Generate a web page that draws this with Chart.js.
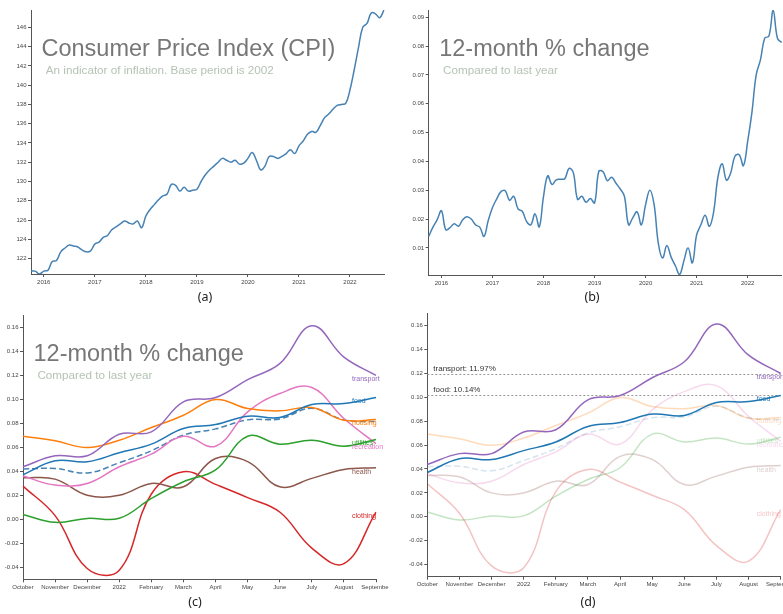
<!DOCTYPE html>
<html>
<head>
<meta charset="utf-8">
<script src="https://cdn.jsdelivr.net/npm/chart.js@4.4.1/dist/chart.umd.min.js"></script>
<style>
html, body { margin: 0; padding: 0; background: #fff; }
body { position: relative; width: 783px; height: 614px; overflow: hidden; font-family: "Liberation Sans", Arial, sans-serif; }
canvas { position: absolute; }
.title { position: absolute; font-size: 23.5px; line-height: 1; color: #777; white-space: nowrap; }
.sub { position: absolute; font-size: 11.7px; line-height: 1; color: #b5c3b5; white-space: nowrap; }
.cap { position: absolute; width: 40px; margin-left: -20px; text-align: center; font-family: "Noto Sans", sans-serif; font-size: 12.5px; line-height: 1; color: #222; }
#clipC { position: absolute; left: 0; top: 305px; width: 389px; height: 300px; overflow: hidden; }
</style>
</head>
<body>

<canvas id="cpiChart" width="392" height="292" style="left:0;top:0;width:392px;height:292px"></canvas>
<canvas id="changeChart" width="392" height="292" style="left:397px;top:0;width:392px;height:292px"></canvas>
<div id="clipC"><canvas id="groupChart" width="420" height="290" style="left:0;top:0;width:420px;height:290px"></canvas></div>
<canvas id="focusChart" width="420" height="290" style="left:395px;top:305px;width:420px;height:290px"></canvas>

<div class="title" style="left:41.5px;top:37.4px">Consumer Price Index (CPI)</div>
<div class="sub" style="left:45.8px;top:64.1px">An indicator of inflation. Base period is 2002</div>
<div class="title" style="left:439.2px;top:37.4px">12-month % change</div>
<div class="sub" style="left:443px;top:64.1px">Compared to last year</div>
<div class="title" style="left:33.5px;top:342.4px">12-month % change</div>
<div class="sub" style="left:37.4px;top:369.1px">Compared to last year</div>

<div class="cap" style="left:205px;top:291px">(a)</div>
<div class="cap" style="left:592px;top:291px">(b)</div>
<div class="cap" style="left:195px;top:596px">(c)</div>
<div class="cap" style="left:588px;top:596px">(d)</div>

<script>
// monthly series, Oct 2015 .. Sep 2022
const cpi = [
    120.7, 120.7, 120.4, 120.7, 120.8, 121.7, 121.8, 122.7, 123.1, 123.4,
    123.3, 123.2, 122.9, 122.7, 122.8, 123.5, 123.7, 124.2, 124.4, 125.0,
    125.3, 125.6, 125.9, 125.7, 125.6, 125.9, 125.2, 126.4, 127.1, 127.6,
    128.1, 128.5, 128.7, 129.7, 129.6, 129.0, 129.4, 129.0, 129.1, 129.2,
    130.0, 130.7, 131.2, 131.6, 132.0, 132.4, 132.2, 132.0, 132.2, 131.8,
    131.9, 132.4, 133.0, 132.2, 131.2, 131.6, 132.6, 132.6, 132.4, 132.6,
    132.9, 133.3, 132.9, 133.7, 134.2, 134.9, 135.2, 135.1, 135.8, 136.6,
    137.0, 137.5, 137.9, 138.0, 138.1, 139.5, 141.6, 143.9, 146.0, 146.4,
    147.5, 147.4, 147.0, 147.8
];
const cpiChange = [
    0.0140, 0.0172, 0.0198, 0.0229, 0.0163, 0.0170, 0.0184, 0.0175, 0.0198, 0.0208,
    0.0200, 0.0180, 0.0172, 0.0140, 0.0195, 0.0240, 0.0270, 0.0295, 0.0298, 0.0265,
    0.0279, 0.0235, 0.0227, 0.0192, 0.0180, 0.0218, 0.0173, 0.0279, 0.0350, 0.0320,
    0.0336, 0.0338, 0.0340, 0.0376, 0.0361, 0.0268, 0.0279, 0.0258, 0.0271, 0.0256,
    0.0366, 0.0364, 0.0333, 0.0345, 0.0325, 0.0305, 0.0280, 0.0180, 0.0205, 0.0225,
    0.0180, 0.0250, 0.0300, 0.0250, 0.0115, 0.0065, 0.0108, 0.0068, 0.0038, 0.0008,
    0.0055, 0.0100, 0.0048, 0.0145, 0.0180, 0.0213, 0.0175, 0.0225, 0.0345, 0.0392,
    0.0335, 0.0360, 0.0418, 0.0423, 0.0385, 0.0470, 0.0570, 0.0700, 0.0752, 0.0827,
    0.0835, 0.0923, 0.0827, 0.0812
];
const yearTicks = ['2016', '2017', '2018', '2019', '2020', '2021', '2022'];
const cpiTicks = [122, 124, 126, 128, 130, 132, 134, 136, 138, 140, 142, 144, 146];
const changeTicks = [0.01, 0.02, 0.03, 0.04, 0.05, 0.06, 0.07, 0.08, 0.09];
const groupTicks = [-0.04, -0.02, 0, 0.02, 0.04, 0.06, 0.08, 0.10, 0.12, 0.14, 0.16];

// last 12 months by group
const monthLabels = ['October', 'November', 'December', '2022', 'February', 'March',
    'April', 'May', 'June', 'July', 'August', 'September'];
const food       = [0.0370, 0.0486, 0.0478, 0.0553, 0.0625, 0.0755, 0.0788, 0.0858, 0.0847, 0.0955, 0.0963, 0.1014];
const housing    = [0.0691, 0.0653, 0.0597, 0.0658, 0.0763, 0.0866, 0.0996, 0.0921, 0.0902, 0.0930, 0.0824, 0.0830];
const utilities  = [0.0040, -0.0026, 0.0007, 0.0008, 0.0173, 0.0312, 0.0410, 0.0691, 0.0625, 0.0658, 0.0608, 0.0664];
const clothing   = [0.0276, 0.0030, -0.0410, -0.0425, 0.0210, 0.0395, 0.0290, 0.0180, 0.0060, -0.0240, -0.0370, 0.0060];
const recreation = [0.0360, 0.0284, 0.0298, 0.0437, 0.0542, 0.0691, 0.0608, 0.0894, 0.1046, 0.1096, 0.0838, 0.0630];
const transport  = [0.0437, 0.0528, 0.0528, 0.0708, 0.0727, 0.0977, 0.1013, 0.1162, 0.1295, 0.1611, 0.1350, 0.1197];
const health     = [0.0345, 0.0334, 0.0200, 0.0200, 0.0298, 0.0270, 0.0505, 0.0480, 0.0270, 0.0340, 0.0414, 0.0428];
const allItems   = cpiChange.slice(-12);

const groups = [
    { name: 'transport',  data: transport,  color: '#9467bd' },
    { name: 'food',       data: food,       color: '#1f77b4' },
    { name: 'housing',    data: housing,    color: '#ff7f0e' },
    { name: 'utilities',  data: utilities,  color: '#2ca02c' },
    { name: 'recreation', data: recreation, color: '#e377c2' },
    { name: 'health',     data: health,     color: '#8c564b' },
    { name: 'clothing',   data: clothing,   color: '#d62728' }
];
const highlighted = ['transport', 'food'];

// month categories for the long series
const months = [];
for (let i = 0; i < cpi.length; i++) {
    const m = 9 + i;
    months.push((2015 + Math.floor(m / 12)) + '-' + String(m % 12 + 1).padStart(2, '0'));
}

const FONT = '"Liberation Sans", Arial, sans-serif';
Chart.defaults.font.family = FONT;
const tickFont = { size: 6, family: FONT };
const fmt2 = v => (Math.abs(v) < 1e-9 ? 0 : v).toFixed(2);

function fade(hex, a) {
    const n = parseInt(hex.slice(1), 16);
    return 'rgba(' + (n >> 16) + ',' + ((n >> 8) & 255) + ',' + (n & 255) + ',' + a + ')';
}

function yScale(min, max, tickValues, width, fmt) {
    return {
        min: min, max: max,
        afterBuildTicks: s => { s.ticks = tickValues.map(v => ({ value: v })); },
        ticks: { font: tickFont, color: '#444', padding: 1.5, callback: fmt },
        grid: { drawOnChartArea: false, tickLength: 3, color: '#555' },
        border: { color: '#555' },
        afterFit: s => { s.width = width; }
    };
}

function xScale(height, yearsOnly) {
    const sc = {
        type: 'category', offset: false,
        ticks: { autoSkip: false, maxRotation: 0, font: tickFont, color: '#444', padding: 1.5 },
        grid: { drawOnChartArea: false, tickLength: 3, color: '#555', offset: false },
        border: { color: '#555' },
        afterFit: s => { s.height = height; }
    };
    if (yearsOnly) {
        sc.afterBuildTicks = s => {
            s.ticks = s.ticks.filter(t => {
                const lab = s.getLabelForValue(t.value);
                return lab.endsWith('-01') && yearTicks.includes(lab.slice(0, 4));
            });
        };
        sc.ticks.callback = function (v) { return this.getLabelForValue(v).slice(0, 4); };
    }
    return sc;
}

function baseOptions(pad, scales) {
    return {
        responsive: false, animation: false, events: [],
        layout: { padding: pad },
        scales: scales,
        plugins: { legend: { display: false }, tooltip: { enabled: false } }
    };
}

// (a)
new Chart(document.getElementById('cpiChart'), {
    type: 'line',
    data: { labels: months, datasets: [{ data: cpi, borderColor: '#4682b4', borderWidth: 1.5, pointRadius: 0, tension: 0.4, fill: false }] },
    options: baseOptions({ top: 10, right: 8, bottom: 0, left: 0 }, {
        x: xScale(18, true),
        y: yScale(120.4, 147.8, cpiTicks, 31, v => v.toFixed(0))
    })
});

// (b)
new Chart(document.getElementById('changeChart'), {
    type: 'line',
    data: { labels: months, datasets: [{ data: cpiChange, borderColor: '#4682b4', borderWidth: 1.5, pointRadius: 0, tension: 0.4, fill: false }] },
    options: baseOptions({ top: 10, right: 7.3, bottom: 0, left: 0 }, {
        x: xScale(17, true),
        y: yScale(0.0006, 0.0925, changeTicks, 31.7, fmt2)
    })
});

// group labels at the end of each line
const endLabels = {
    id: 'endLabels',
    afterDatasetsDraw(chart) {
        const ctx = chart.ctx, area = chart.chartArea, y = chart.scales.y;
        ctx.save();
        ctx.font = '7px ' + FONT;
        ctx.textBaseline = 'middle';
        chart.data.datasets.forEach(ds => {
            if (!ds.label) return;
            ctx.fillStyle = ds.borderColor;
            ctx.fillText(ds.label, area.right - 24, y.getPixelForValue(ds.data[ds.data.length - 1]) + 4);
        });
        ctx.restore();
    }
};

// dotted reference lines for the highlighted groups
const refLines = {
    id: 'refLines',
    beforeDatasetsDraw(chart) {
        const ctx = chart.ctx, area = chart.chartArea, y = chart.scales.y;
        ctx.save();
        ctx.font = '8px ' + FONT;
        ctx.textBaseline = 'bottom';
        highlighted.forEach(name => {
            const g = groups.find(d => d.name === name);
            const v = g.data[g.data.length - 1];
            const py = Math.round(y.getPixelForValue(v)) + 0.5;
            ctx.strokeStyle = '#999';
            ctx.lineWidth = 1;
            ctx.setLineDash([2, 2]);
            ctx.beginPath();
            ctx.moveTo(area.left, py);
            ctx.lineTo(area.right, py);
            ctx.stroke();
            ctx.fillStyle = '#333';
            ctx.fillText(name + ': ' + (v * 100).toFixed(2) + '%', area.left + 6, py - 2);
        });
        ctx.restore();
    }
};

function groupDatasets(focus) {
    const sets = groups.map(g => {
        const on = !focus || highlighted.includes(g.name);
        const col = on ? g.color : fade(g.color, 0.28);
        return { label: g.name, data: g.data, borderColor: col, borderWidth: 1.5, pointRadius: 0, tension: 0.4, fill: false };
    });
    if (focus) {
        // highlighted lines on top
        sets.sort((a, b) => (highlighted.includes(b.label) ? 1 : 0) - (highlighted.includes(a.label) ? 1 : 0));
    }
    sets.push({ label: '', data: allItems, borderColor: focus ? fade('#4682b4', 0.22) : '#4682b4',
        borderWidth: 1.5, borderDash: [6, 3], pointRadius: 0, tension: 0.4, fill: false });
    return sets;
}

// (c)
new Chart(document.getElementById('groupChart'), {
    type: 'line',
    data: { labels: monthLabels, datasets: groupDatasets(false) },
    options: baseOptions({ top: 10, right: 44, bottom: 0, left: 0 }, {
        x: xScale(15.7, false),
        y: yScale(-0.05, 0.17, groupTicks, 23, fmt2)
    }),
    plugins: [endLabels]
});

// (d)
new Chart(document.getElementById('focusChart'), {
    type: 'line',
    data: { labels: monthLabels, datasets: groupDatasets(true) },
    options: baseOptions({ top: 8.3, right: 34.3, bottom: 0, left: 0 }, {
        x: xScale(18.3, false),
        y: yScale(-0.05, 0.17, groupTicks, 32.3, fmt2)
    }),
    plugins: [refLines, endLabels]
});
</script>
</body>
</html>
